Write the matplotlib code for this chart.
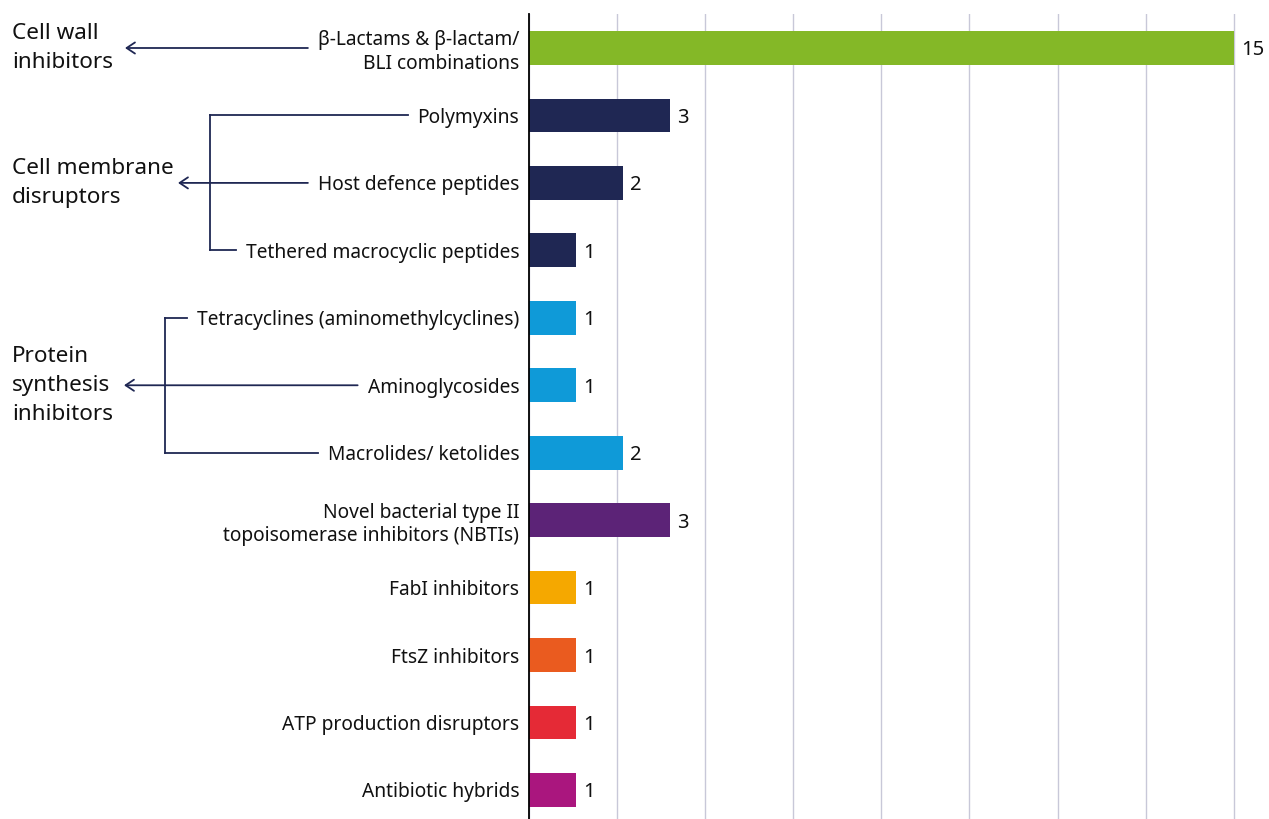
import matplotlib.pyplot as plt
import numpy as np
from matplotlib.transforms import blended_transform_factory

plt.rcParams["font.family"] = ["Noto Sans", "DejaVu Sans"]

# Antibacterial classes in the pipeline, top to bottom
classes = [
    "β-Lactams & β-lactam/\nBLI combinations",
    "Polymyxins",
    "Host defence peptides",
    "Tethered macrocyclic peptides",
    "Tetracyclines (aminomethylcyclines)",
    "Aminoglycosides",
    "Macrolides/ ketolides",
    "Novel bacterial type II\ntopoisomerase inhibitors (NBTIs)",
    "FabI inhibitors",
    "FtsZ inhibitors",
    "ATP production disruptors",
    "Antibiotic hybrids",
]
counts = [15, 3, 2, 1, 1, 1, 2, 3, 1, 1, 1, 1]
bar_colors = [
    "#84B827", "#1F2753", "#1F2753", "#1F2753",
    "#0F9AD8", "#0F9AD8", "#0F9AD8", "#5C2377",
    "#F5A800", "#EA5B1F", "#E52A36", "#AA167E",
]

# Mechanism groups and the rows they bracket
group_names = ["Cell wall\ninhibitors", "Cell membrane\ndisruptors", "Protein\nsynthesis\ninhibitors"]
group_rows = [[0], [1, 2, 3], [4, 5, 6]]

NAVY = "#1F2753"
W, H = 1269, 819


def main():
    fig = plt.figure(figsize=(W / 100, H / 100), dpi=100)

    # overlay in figure pixels for the group brackets
    ov = fig.add_axes([0, 0, 1, 1])
    ov.set_xlim(0, W)
    ov.axis("off")

    ax = fig.add_axes([529 / W, 0, 1 - 529 / W, 1 - 14 / H])
    ax.patch.set_alpha(0)
    rows = np.arange(len(classes))
    ax.barh(rows, counts, height=0.5, color=bar_colors, zorder=3)
    for y, v in zip(rows, counts):
        ax.annotate(str(v), xy=(v, y), xytext=(5, 0), textcoords="offset points",
                    va="center_baseline", ha="left", fontsize=14.5, color="#111111")

    ax.set_xlim(0, 15.75)
    ax.set_ylim(len(classes) - 1 + 0.43, -0.504)
    ax.set_xticks(np.linspace(0, max(counts), 9))
    ax.set_xticklabels([])
    ax.set_yticks(rows, classes, fontsize=13.8, linespacing=1.25, color="#111111")
    ax.tick_params(axis="both", length=0)
    ax.tick_params(axis="y", pad=7)
    ax.grid(axis="x", color="#C8C8D8", linewidth=1, zorder=0)
    for side in ["top", "right", "bottom"]:
        ax.spines[side].set_visible(False)
    ax.spines["left"].set_linewidth(1.3)
    ax.spines["left"].set_zorder(4)

    trans = blended_transform_factory(ov.transData, ax.transData)

    fig.canvas.draw()
    renderer = fig.canvas.get_renderer()
    label_x0 = [t.get_window_extent(renderer).x0 for t in ax.get_yticklabels()]

    arrow_tips = [125, 178, 124]
    bracket_x = [None, 210, 165]
    line_kw = dict(color=NAVY, linewidth=1.3, transform=trans, clip_on=False)
    arrow_kw = dict(arrowstyle="->,head_length=0.6,head_width=0.4", color=NAVY,
                    lw=1.3, shrinkA=0, shrinkB=0)

    for name, members, tip, vx in zip(group_names, group_rows, arrow_tips, bracket_x):
        mid = members[len(members) // 2]
        ov.text(12, np.mean(members), name, transform=trans, ha="left", va="center",
                fontsize=16.2, linespacing=1.5, color="#111111")
        ov.annotate("", xy=(tip, mid), xytext=(label_x0[mid] - 10, mid),
                    xycoords=trans, textcoords=trans, arrowprops=arrow_kw)
        if vx is None:
            continue
        ov.plot([vx, vx], [members[0], members[-1]], **line_kw)
        for r in members:
            if r != mid:
                ov.plot([vx, label_x0[r] - 10], [r, r], **line_kw)

    fig.savefig("out.png", dpi=100)
    plt.close(fig)


if __name__ == "__main__":
    main()
